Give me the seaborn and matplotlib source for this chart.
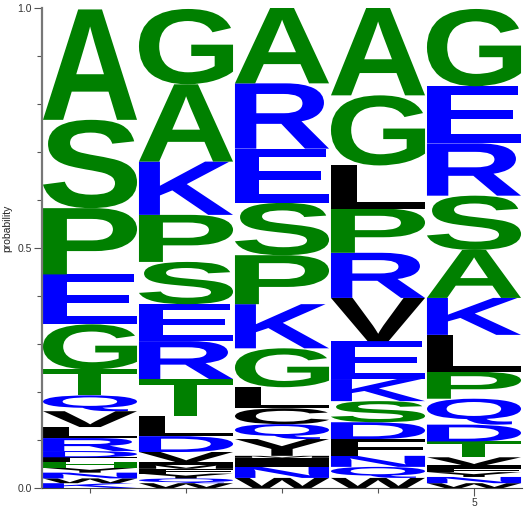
import numpy as np
import seaborn as sns
import matplotlib
matplotlib.use("Agg")
import matplotlib.pyplot as plt
from matplotlib.textpath import TextPath
from matplotlib.patches import PathPatch
from matplotlib.font_manager import FontProperties
from matplotlib.transforms import Affine2D
from matplotlib.ticker import MultipleLocator

# letters of each position, listed from top of the stack to bottom
pos1_letters = ["A", "S", "P", "E", "G", "T", "Q", "V", "L", "R", "D", "F", "H", "Y", "N", "W", "K"]
pos1_probs = [0.230, 0.184, 0.138, 0.104, 0.094, 0.054, 0.033, 0.033, 0.023, 0.027, 0.013, 0.010, 0.012, 0.010, 0.012, 0.010, 0.010]

pos2_letters = ["G", "A", "K", "P", "S", "E", "R", "T", "L", "D", "V", "I", "M", "F", "Y", "Q", "W"]
pos2_probs = [0.157, 0.161, 0.111, 0.098, 0.088, 0.077, 0.079, 0.077, 0.042, 0.033, 0.021, 0.006, 0.008, 0.010, 0.010, 0.010, 0.010]

pos3_letters = ["A", "R", "E", "S", "P", "K", "G", "L", "C", "Q", "Y", "M", "I", "N", "W"]
pos3_probs = [0.157, 0.136, 0.113, 0.109, 0.102, 0.092, 0.081, 0.044, 0.033, 0.031, 0.035, 0.004, 0.019, 0.023, 0.021]

pos4_letters = ["A", "G", "L", "P", "R", "V", "E", "K", "S", "D", "F", "N", "Q", "W"]
pos4_probs = [0.182, 0.146, 0.090, 0.092, 0.094, 0.090, 0.079, 0.046, 0.044, 0.035, 0.035, 0.023, 0.023, 0.021]

pos5_letters = ["G", "E", "R", "S", "A", "K", "L", "P", "Q", "D", "T", "V", "I", "F", "Y", "N", "W"]
pos5_probs = [0.161, 0.119, 0.109, 0.113, 0.100, 0.077, 0.077, 0.056, 0.054, 0.035, 0.033, 0.017, 0.006, 0.008, 0.010, 0.013, 0.010]

positions = [1, 2, 3, 4, 5]
columns = [
    (pos1_letters, pos1_probs),
    (pos2_letters, pos2_probs),
    (pos3_letters, pos3_probs),
    (pos4_letters, pos4_probs),
    (pos5_letters, pos5_probs),
]

# hydrophobicity colour scheme
green, blue, black = "#008000", "#0000ff", "#000000"
letter_color = {}
for c in "SGHTAP":
    letter_color[c] = green
for c in "RKDENQ":
    letter_color[c] = blue
for c in "YVMCLFIW":
    letter_color[c] = black

sns.set_style("ticks")
plt.rcParams["font.family"] = ["Liberation Sans", "DejaVu Sans"]

fig = plt.figure(figsize=(5.31, 5.07), dpi=100)
ax = fig.add_axes([42 / 531, 1 - 488 / 507, 480 / 531, 480 / 507])

fp = FontProperties(family="Liberation Sans", weight="bold")
letter_width = 0.98


def draw_letter(ax, ch, x, y0, h):
    path = TextPath((0, 0), ch, size=1, prop=fp)
    ext = path.get_extents()
    tr = (Affine2D()
          .translate(-ext.x0, -ext.y0)
          .scale(letter_width / ext.width, h / ext.height)
          .translate(x - letter_width / 2, y0))
    patch = PathPatch(tr.transform_path(path), facecolor=letter_color[ch],
                      edgecolor="none", lw=0)
    ax.add_patch(patch)


for pos, (letters, probs) in zip(positions, columns):
    y = 0.0
    for ch, p in zip(letters[::-1], probs[::-1]):
        draw_letter(ax, ch, pos, y, p)
        y += p

ax.set_xlim(0.5, 5.5)
ax.set_ylim(0, 1.0)

ax.xaxis.set_major_locator(MultipleLocator(5))
ax.xaxis.set_minor_locator(MultipleLocator(1))
ax.yaxis.set_major_locator(MultipleLocator(0.5))
ax.yaxis.set_minor_locator(MultipleLocator(0.1))
ax.tick_params(axis="both", which="major", labelsize=7.5, labelcolor="#333333",
               color="#555555", length=6, width=0.8, pad=1.5)
ax.tick_params(axis="both", which="minor", color="#555555", length=3.5, width=0.8)

ax.set_ylabel("probability", fontsize=7.5, color="#222222")
ax.yaxis.set_label_coords(-0.062, 0.54)

sns.despine(ax=ax, top=True, right=True)
ax.spines["left"].set_color("#777777")
ax.spines["left"].set_linewidth(1.6)
ax.spines["bottom"].set_color("#444444")
ax.spines["bottom"].set_linewidth(0.8)

fig.savefig("out.png", dpi=100)
